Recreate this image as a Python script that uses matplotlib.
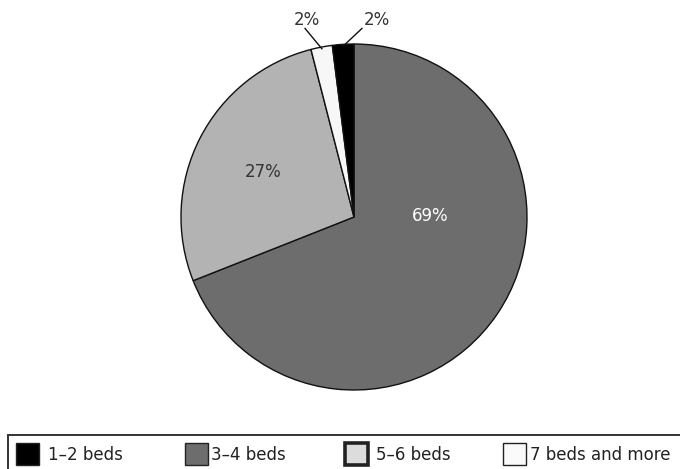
import numpy as np
import matplotlib
matplotlib.use("Agg")
import matplotlib.pyplot as plt
from matplotlib.patches import Rectangle

plt.rcParams['font.family'] = ['DejaVu Sans']

# Share of rooms by number of beds (drawn clockwise from 12 o'clock)
categories = ["3–4 beds", "5–6 beds", "7 beds and more", "1–2 beds"]
shares = [69, 27, 2, 2]
slice_colors = ["#6d6d6d", "#b3b3b3", "#f7f7f7", "#000000"]

# Legend order and swatch styling
legend_labels = ["1–2 beds", "3–4 beds", "5–6 beds", "7 beds and more"]
legend_colors = ["#000000", "#6d6d6d", "#dcdcdc", "#fafafa"]
legend_edge_widths = [1.0, 1.0, 2.6, 1.0]

W, H = 680, 469
fig = plt.figure(figsize=(W / 100, H / 100), dpi=100)

cx, cy, r = 354, 217, 173
ax = fig.add_axes([(cx - r) / W, (H - cy - r) / H, 2 * r / W, 2 * r / H])
ax.set_aspect('equal')
ax.axis('off')

wedges, _ = ax.pie(shares, colors=slice_colors, startangle=90, counterclock=False,
                   radius=1.0, center=(0, 0),
                   wedgeprops=dict(edgecolor="#111111", linewidth=1.0))
ax.set_xlim(-1, 1)
ax.set_ylim(-1, 1)

txt_color = "#333333"
fs = 12

# Inside labels for the two large slices (position in pie-radius units)
inside = {0: ((0.44, 0.005), "white"), 1: ((-0.526, 0.26), txt_color)}
for i, (pos, col) in inside.items():
    ax.text(pos[0], pos[1], f"{shares[i]}%",
            ha='center', va='center', fontsize=fs, color=col)

# Outside labels with leader lines for the small slices
outside = {2: ((-0.283, 1.09), (-0.272, 1.139)),
           3: ((0.046, 1.09), (0.133, 1.139))}
for i, (line_end, text_pos) in outside.items():
    w = wedges[i]
    ang = np.deg2rad((w.theta1 + w.theta2) / 2)
    x0, y0 = 0.99 * np.cos(ang), 0.99 * np.sin(ang)
    ax.plot([x0, line_end[0]], [y0, line_end[1]], color="#111111", lw=1.0,
            clip_on=False)
    ax.text(text_pos[0], text_pos[1], f"{shares[i]}%", ha='center', va='center',
            fontsize=fs, color=txt_color, clip_on=False)

# Legend frame along the bottom
def fx(px):
    return px / W

def fy(py):
    return 1 - py / H

frame = Rectangle((fx(8), fy(480)), fx(700) - fx(8), fy(435) - fy(480),
                  transform=fig.transFigure, facecolor='none',
                  edgecolor="#333333", linewidth=1.4, clip_on=False)
fig.patches.append(frame)

swatch_x = [16, 185, 345, 503]
text_x = [48, 211, 376, 530]
sw_w, sw_h = 23, 22
sw_top = 443
for sx, tx, lab, col, lw in zip(swatch_x, text_x, legend_labels, legend_colors,
                                legend_edge_widths):
    rect = Rectangle((fx(sx), fy(sw_top + sw_h)), fx(sw_w), sw_h / H,
                     transform=fig.transFigure, facecolor=col,
                     edgecolor="#222222", linewidth=lw)
    fig.patches.append(rect)
    fig.text(fx(tx), fy(455), lab, ha='left', va='center', fontsize=fs,
             color="#222222")

fig.savefig("out.png", dpi=100)
